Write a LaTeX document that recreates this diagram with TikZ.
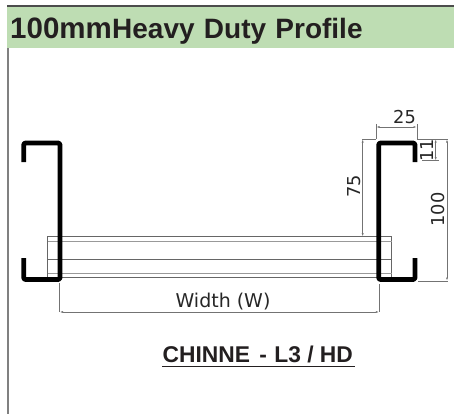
\documentclass[tikz,border=0pt]{standalone}
\usepackage{fontspec}
\setmainfont{Liberation Sans}
\newfontfamily\dimfont{DejaVu Sans}
\definecolor{band}{HTML}{BEDDB3}
\definecolor{ink}{HTML}{231F20}
\usetikzlibrary{arrows.meta}
\tikzset{
  channel/.style={draw=black,line width=4.8pt,line join=round,rounded corners=2pt},
  dimline/.style={draw=black!55,line width=0.7pt},
  dimarrow/.style={dimline,{Latex[length=3.5pt,width=2pt]}-{Latex[length=3.5pt,width=2pt]}},
  extline/.style={draw=black!55,line width=0.6pt},
  rail/.style={draw=black!60,line width=0.7pt},
  railpale/.style={draw=black!40,line width=0.8pt},
  dimtext/.style={font=\dimfont\fontsize{17.8}{20}\selectfont,text=black!85,inner sep=0pt},
  widthtext/.style={font=\dimfont\fontsize{19}{22}\selectfont,text=black!85,inner sep=0pt},
  bigtitle/.style={font=\bfseries\fontsize{29.5}{32}\selectfont,text=ink,inner sep=0pt,anchor=base west},
  titletext/.style={font=\bfseries\fontsize{28}{32}\selectfont,text=ink,inner sep=0pt,anchor=base west},
  subtext/.style={font=\bfseries\fontsize{22.8}{26}\selectfont,text=ink,inner sep=0pt,anchor=base west}
}
\begin{document}
\begin{tikzpicture}[x=1pt,y=-1pt]
\useasboundingbox (0,0) rectangle (454,414);
% header and frame
\fill[band] (7,6) rectangle (454,48);
\draw[black!70,line width=1.6pt] (7,5.8) -- (454,5.8);
\draw[black!50,line width=1.8pt] (8,48) -- (8,414);
\node[bigtitle] (t1) at (10,38.8) {100mm};
\node[titletext] (t2) at (112,38.8) {Heavy\hspace{1.5pt} Duty\hspace{1.5pt} Profile};
% rail
\draw[rail] (47.5,236.7) rectangle (391.7,277.3);
\draw[railpale] (47.5,241) -- (391.7,241);
\draw[rail] (47.5,259.3) -- (391.7,259.3);
\draw[railpale] (47.5,273) -- (391.7,273);
% channels
\draw[channel] (23.7,162) |- (60,143) -- (60,279.5) -- (23.7,279.5) -- (23.7,258);
\draw[channel] (415,162) |- (378.7,143) -- (378.7,279.5) -- (415,279.5) -- (415,258);
% dimensions
\coordinate (wa) at (376,127); \coordinate (wb) at (417,127);
\draw[extline] (376,124) -- (376,139);
\draw[extline] (417,124) -- (417,139);
\draw[dimarrow] (wa) -- (wb);
\node[dimtext] (d25) at (404.5,117) {25};
\draw[extline] (417,139) -- (448,139);
\draw[extline] (362,139) -- (376,139);
\draw[extline] (422,160.7) -- (439,160.7);
\draw[extline] (418,281) -- (448,281);
\coordinate (e1) at (435.7,139); \coordinate (e2) at (435.7,160.7);
\draw[dimarrow] (e1) -- (e2);
\node[dimtext,rotate=90] (d11) at (427.5,150) {11};
\coordinate (h1) at (447,139); \coordinate (h2) at (447,281);
\draw[dimarrow] (h1) -- (h2);
\node[dimtext,rotate=90] (d100) at (438,209.5) {100};
\coordinate (s1) at (362.7,139); \coordinate (s2) at (362.7,236.7);
\draw[dimarrow] (s1) -- (s2);
\node[dimtext,rotate=90] (d75) at (354.5,186.5) {75};
% width
\draw[extline] (59.5,283) -- (59.5,312);
\draw[extline] (379.3,284) -- (379.3,312);
\coordinate (w1) at (59.5,312); \coordinate (w2) at (379.3,312);
\draw[dimarrow] (w1) -- (w2);
\node[widthtext] (dw) at (223,302) {Width (W)};
% caption
\node[subtext] (cap) at (162.5,362.7) {CHINNE\hspace{3pt} -\hspace{1pt} L3 / HD};
\draw[ink,line width=1.3pt] (162,366.8) -- (354.5,366.8);
\end{tikzpicture}
\end{document}
